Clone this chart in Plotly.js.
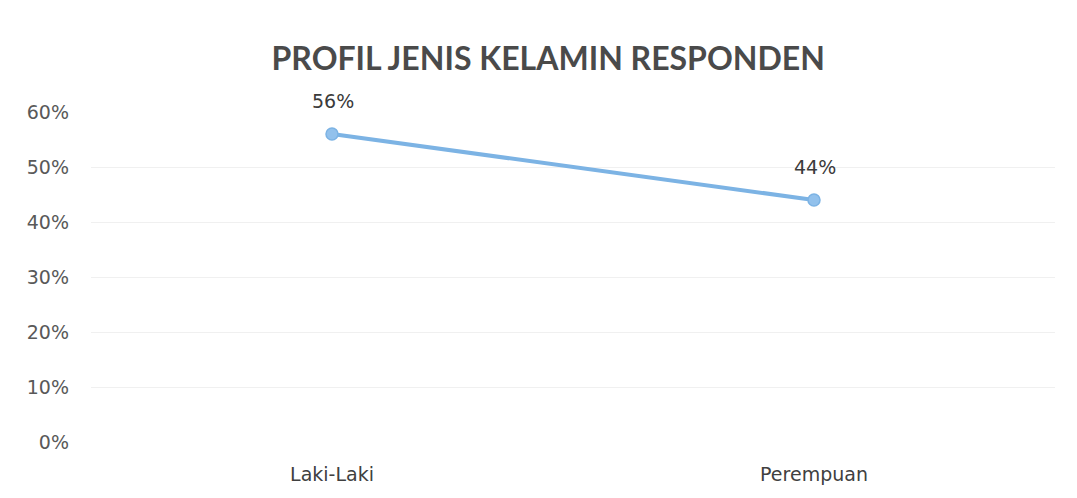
<!DOCTYPE html>
<html>
<head>
<meta charset="utf-8">
<script src="https://cdn.plot.ly/plotly-3.0.1.min.js"></script>
<style>html,body{margin:0;padding:0;background:#fff;}#chart{width:1077px;height:498px;}</style>
</head>
<body>
<div id="chart"></div>
<script>
var categories = ["Laki-Laki", "Perempuan"];
var values = [0.56, 0.44];
var labels = ["56%", "44%"];
var yTickVals = [0, 0.1, 0.2, 0.3, 0.4, 0.5, 0.6];
var yTickText = ["0%", "10%", "20%", "30%", "40%", "50%", "60%"];

var trace = {
  x: categories,
  y: values,
  type: "scatter",
  mode: "lines+markers",
  line: {color: "#7cb3e4", width: 4},
  marker: {color: "#92c1ec", size: 12, line: {color: "#7cb3e4", width: 1.5}},
  cliponaxis: false,
  hoverinfo: "none"
};

var annotations = categories.map(function (c, i) {
  return {
    x: c, y: values[i], xref: "x", yref: "y",
    text: labels[i], showarrow: false,
    yshift: 33, xshift: 1,
    font: {family: "'DejaVu Sans', sans-serif", size: 19, color: "#3a3a3a"}
  };
});

var layout = {
  width: 1077,
  height: 498,
  margin: {l: 91, r: 22, t: 112, b: 56},
  paper_bgcolor: "#ffffff",
  plot_bgcolor: "#ffffff",
  showlegend: false,
  annotations: annotations,
  title: {
    text: "PROFIL JENIS KELAMIN RESPONDEN",
    font: {family: "Lato, 'Open Sans', sans-serif", size: 32, color: "#4a4a4a", weight: "bold"},
    x: 0.509, xanchor: "center",
    y: 0.882, yanchor: "middle"
  },
  xaxis: {
    type: "category",
    range: [-0.5, 1.5],
    showgrid: false,
    zeroline: false,
    showline: false,
    ticks: "",
    tickfont: {family: "'DejaVu Sans', sans-serif", size: 19, color: "#404040"},
    ticklabelstandoff: 19
  },
  yaxis: {
    range: [0, 0.6],
    tickvals: yTickVals,
    ticktext: yTickText,
    showgrid: true,
    gridcolor: "#f0f0f0",
    gridwidth: 1,
    zeroline: false,
    showline: false,
    ticks: "",
    tickfont: {family: "'DejaVu Sans', sans-serif", size: 19, color: "#595959"},
    ticklabelstandoff: 21
  }
};

Plotly.newPlot("chart", [trace], layout, {displayModeBar: false, staticPlot: true});
</script>
</body>
</html>
